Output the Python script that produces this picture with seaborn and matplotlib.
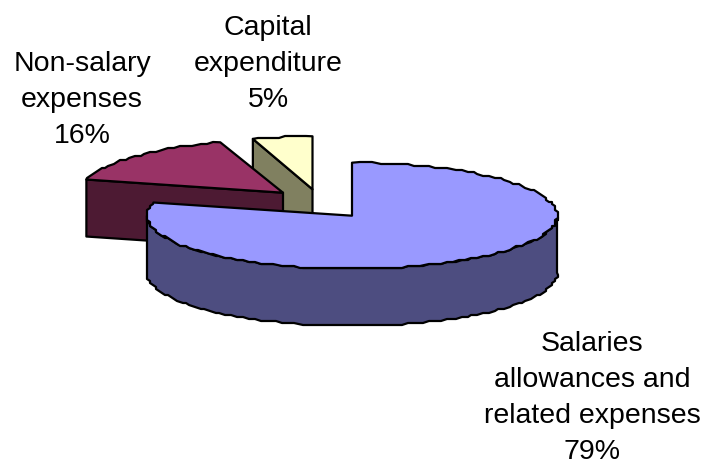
import numpy as np
import matplotlib
matplotlib.use("Agg")
import matplotlib.pyplot as plt
import seaborn as sns

categories = ["Salaries\nallowances and\nrelated expenses", "Non-salary\nexpenses", "Capital\nexpenditure"]
shares = [79, 16, 5]
top_colors = ["#9999FF", "#993366", "#FFFFCC"]
side_colors = ["#4D4D80", "#4D1A33", "#808060"]

# Slice geometry in figure pixels: each slice has its own tip after being pulled out.
tips = [(352, 215.7), (283, 192.7), (312.5, 189.3)]
radii_x = [205, 203, 193]
radius_y = 53
depth = 57
label_pos = [(592, 398), (82, 100), (268, 64)]
draw_order = [2, 1, 0]

sns.set_theme(style="white")
plt.rcParams["font.family"] = ["Liberation Sans", "DejaVu Sans"]

fig = plt.figure(figsize=(7.05, 4.67), dpi=100)
ax = fig.add_axes([0, 0, 1, 1])
ax.set_xlim(0, 705)
ax.set_ylim(467, 0)
ax.axis("off")

total = sum(shares)
edges = np.concatenate([[0], np.cumsum(shares)]) / total * 360.0


def rim(i, a0, a1, step=2.0):
    """Points along a slice's outer edge, angles clockwise from twelve o'clock."""
    n = max(2, int(abs(a1 - a0) / step) + 1)
    t = np.radians(np.linspace(a0, a1, n))
    cx, cy = tips[i]
    x = cx + radii_x[i] * np.sin(t)
    y = cy - radius_y * np.cos(t)
    # Curves are stepped rather than smooth: snap the rim between its two end points.
    x[1:-1] = np.round(x[1:-1] / 3.0) * 3.0
    y[1:-1] = np.round(y[1:-1] / 2.0) * 2.0
    return x, y


line = dict(edgecolor="black", linewidth=1.6, joinstyle="round")

for i in draw_order:
    a0, a1 = edges[i], edges[i + 1]
    cx, cy = tips[i]
    x, y = rim(i, a0, a1)

    # Curved wall: only the part of the rim facing the viewer.
    f0, f1 = max(a0, 90.0), min(a1, 270.0)
    if f1 > f0:
        fx, fy = rim(i, f0, f1)
        ax.fill(np.r_[fx, fx[::-1]], np.r_[fy, fy[::-1] + depth],
                facecolor=side_colors[i], **line)

    # Flat cut face exposed by pulling the slice out.
    if i > 0:
        ax.fill([x[0], cx, cx, x[0]], [y[0], cy, cy + depth, y[0] + depth],
                facecolor=side_colors[i], **line)

    # Top surface.
    ax.fill(np.r_[cx, x], np.r_[cy, y], facecolor=top_colors[i], **line)

for name, share, (lx, ly) in zip(categories, shares, label_pos):
    ax.text(lx, ly, f"{name}\n{share}%", ha="center", va="center",
            fontsize=20.5, color="black", linespacing=1.49)

fig.savefig("out.png", dpi=100, facecolor="white")
